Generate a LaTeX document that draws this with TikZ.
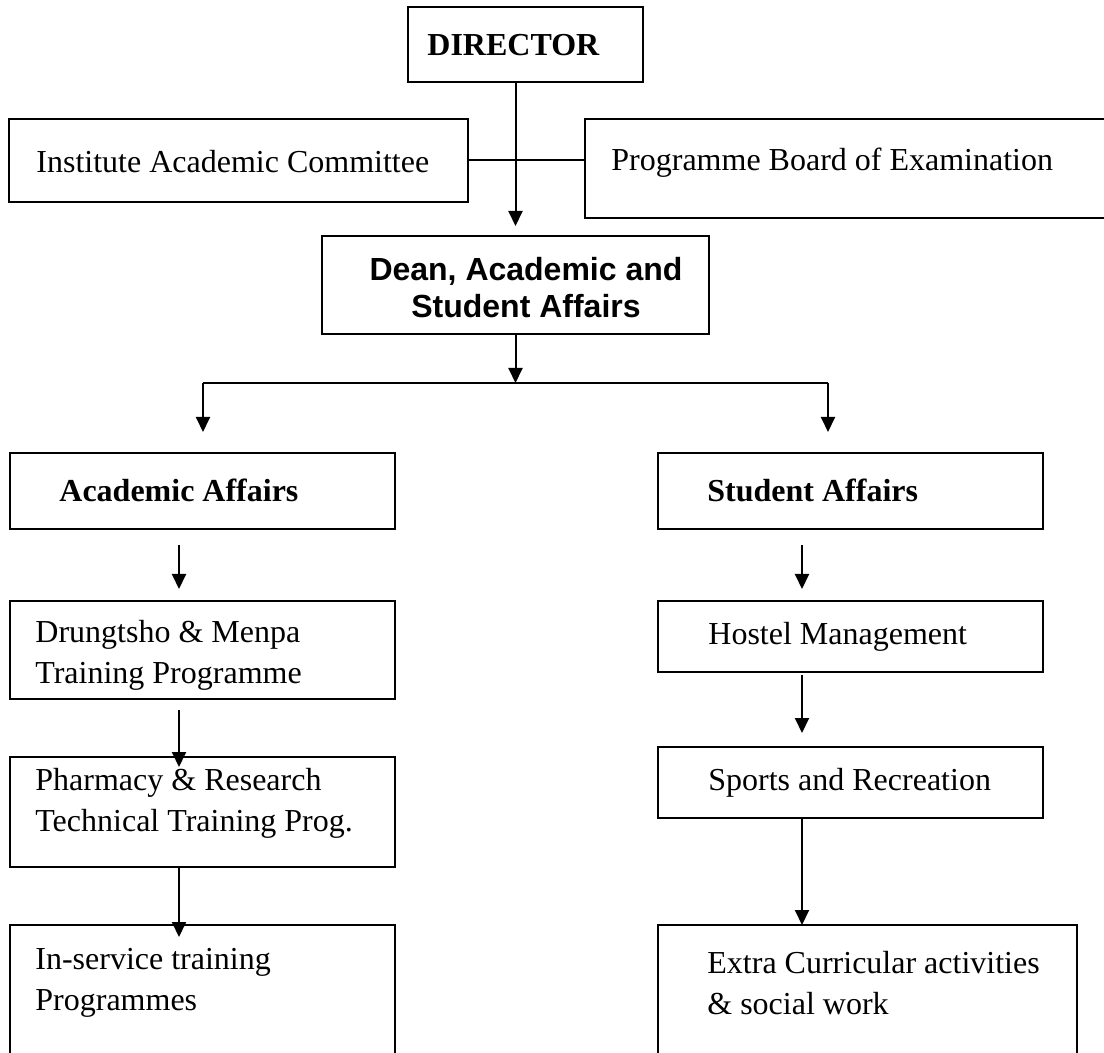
\documentclass[tikz,border=0pt]{standalone}
\usepackage{fontspec}
\setmainfont{Liberation Serif}
\newfontfamily\deanfont{Liberation Sans}
\usepackage{tikz}
\usetikzlibrary{arrows.meta}

\begin{document}
\begin{tikzpicture}[x=0.5pt, y=-0.5pt, font=\fontsize{16}{20.5}\selectfont,
  box/.style={draw, line width=1pt, anchor=north west, inner sep=0pt, outer sep=0pt},
  txt/.style={anchor=west, inner sep=0pt, align=left},
  arr/.style={line width=1pt, -{Triangle[length=7.5pt, width=7pt]}}]
\useasboundingbox (0,0) rectangle (1104,1053);

\node [box, minimum width=117.5pt, minimum height=37.5pt] (dir) at (408,7) {};
\node [box, minimum width=229.5pt, minimum height=41.5pt] (iac) at (9,119) {};
\node [box, minimum width=265pt, minimum height=49.5pt] (pbe) at (585,119) {};
\node [box, minimum width=193.5pt, minimum height=49pt] (dean) at (322,236) {};
\node [box, minimum width=192.5pt, minimum height=38pt] (aca) at (10,453) {};
\node [box, minimum width=192.5pt, minimum height=38pt] (stu) at (658,453) {};
\node [box, minimum width=192.5pt, minimum height=49pt] (dru) at (10,601) {};
\node [box, minimum width=192.5pt, minimum height=55pt] (pha) at (10,757) {};
\node [box, minimum width=192.5pt, minimum height=90pt] (ins) at (10,925) {};
\node [box, minimum width=192.5pt, minimum height=35.5pt] (hos) at (658,601) {};
\node [box, minimum width=192.5pt, minimum height=35.5pt] (spo) at (658,747) {};
\node [box, minimum width=209.5pt, minimum height=90pt] (ext) at (658,925) {};

\node [txt] (tdir) at (427,45) {\bfseries DIRECTOR};
\node [txt] (tiac) at (36,162) {Institute Academic Committee};
\node [txt] (tpbe) at (611,163) {Programme Board of Examination};
\node [align=center, inner sep=0pt, font=\fontsize{16}{18.5}\selectfont\deanfont\bfseries] (tdean) at (526,288) {Dean, Academic and\\Student Affairs};
\node [txt] (taca) at (59,490) {\bfseries Academic Affairs};
\node [txt] (tstu) at (707,490) {\bfseries Student Affairs};
\node [txt] (tdru) at (35,655) {Drungtsho \& Menpa\\Training Programme};
\node [txt] (tpha) at (35,803) {Pharmacy \& Research\\Technical Training Prog.};
\node [txt] (tins) at (35,983) {In-service training\\Programmes};
\node [txt] (thos) at (708,637) {Hostel Management};
\node [txt] (tspo) at (708,783) {Sports and Recreation};
\node [txt] (text) at (707,983) {Extra Curricular activities\\\& social work};

\coordinate (sl) at (203,383);
\coordinate (sr) at (828,383);
\coordinate (split) at (dean.south |- sl);
\coordinate (sle) at (203,432);
\coordinate (sre) at (828,432);
\coordinate (a1) at (179,545);
\coordinate (a1e) at (179,589);
\coordinate (b1) at (802,545);
\coordinate (b1e) at (802,589);

\draw [line width=1pt] (iac.east) -- (iac.east -| pbe.west);
\draw [arr, shorten >=5pt] (dir.south -| dean.north) -- (dean.north);
\draw [arr] (dean.south) -- (split);
\draw [line width=1pt] (sl) -- (sr);
\draw [arr] (sl) -- (sle);
\draw [arr] (sr) -- (sre);
\draw [arr] (a1) -- (a1e);
\draw [arr] (b1) -- (b1e);
\draw [arr, shorten <=5.5pt, shorten >=-5pt] (dru.south -| a1) -- (pha.north -| a1);
\draw [arr, shorten >=-6pt] (pha.south -| a1) -- (ins.north -| a1);
\draw [arr, shorten <=1.5pt, shorten >=7pt] (hos.south -| b1) -- (spo.north -| b1);
\draw [arr] (spo.south -| b1) -- (ext.north -| b1);

\end{tikzpicture}
\end{document}
